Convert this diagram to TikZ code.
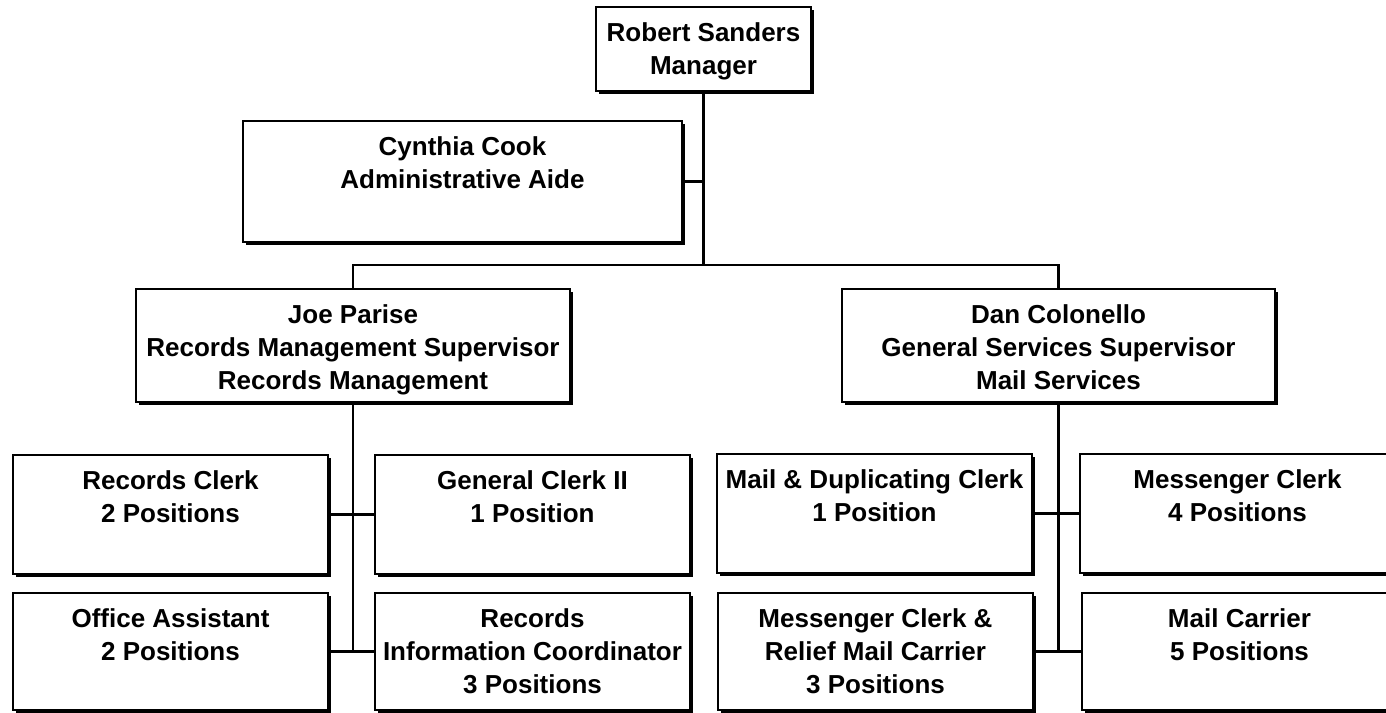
\documentclass[tikz,border=0pt]{standalone}
\usepackage{fontspec}
\setmainfont{Liberation Sans}
\usetikzlibrary{shadows}
\tikzset{
  x=1pt, y=-1pt,
  orgbox/.style={draw, line width=2pt, fill=white, inner sep=0pt, outer sep=0pt,
    rectangle, anchor=north west,
    drop shadow={shadow xshift=3pt, shadow yshift=-3pt, fill=black, opacity=1}},
  lbl/.style={anchor=north, inner sep=0pt, align=center,
    font=\fontsize{26}{33}\selectfont\bfseries},
  conn/.style={line width=2.2pt},
}
\newcommand\obox[6]{%
  \node[orgbox, minimum width={(#4-#2)*1pt}, minimum height={(#5-#3)*1pt}] (#1) at (#2,#3) {};
  \node[lbl] (#1-t) at ([yshift=-12pt]#1.north) {\rule{0pt}{22pt}#6};}
\begin{document}
\begin{tikzpicture}
\useasboundingbox (0,0) rectangle (1386,712);
\clip (0,0) rectangle (1386,712);
\fill[white] (0,0) rectangle (1386,712);
% boxes
\obox{rs}{596}{7}{811}{91}{Robert Sanders\\Manager}
\obox{cc}{243}{121}{682}{242}{Cynthia Cook\\Administrative Aide}
\obox{jp}{136}{289}{570}{402}{Joe Parise\\Records Management Supervisor\\Records Management}
\obox{dc}{842}{289}{1275}{402}{Dan Colonello\\General Services Supervisor\\Mail Services}
\obox{rc}{13}{455}{328}{574}{Records Clerk\\2 Positions}
\obox{gc}{375}{455}{690}{574}{General Clerk II\\1 Position}
\obox{oa}{13}{593}{328}{710}{Office Assistant\\2 Positions}
\obox{ric}{375}{593}{690}{710}{Records\\Information Coordinator\\3 Positions}
\obox{md}{717}{454}{1032}{573}{Mail \& Duplicating Clerk\\1 Position}
\obox{mc}{1080}{454}{1395}{573}{Messenger Clerk\\4 Positions}
\obox{mr}{718}{593}{1033}{710}{Messenger Clerk \&\\Relief Mail Carrier\\3 Positions}
\obox{mca}{1082}{593}{1397}{710}{Mail Carrier\\5 Positions}
% connectors
\coordinate (bus) at (0,265);
\draw[conn] (rs.south) -- (rs.south |- bus);
\draw[conn] (cc.east) -- (cc.east -| rs.south);
\draw[conn] (jp.north) -- (jp.north |- bus) -- (dc.north |- bus) -- (dc.north);
\draw[conn] (jp.south) -- (jp.south |- oa.east);
\draw[conn] (rc.east) -- (gc.west);
\draw[conn] (oa.east) -- (ric.west);
\draw[conn] (dc.south) -- (dc.south |- mr.east);
\draw[conn] (md.east) -- (mc.west);
\draw[conn] (mr.east) -- (mca.west);
\end{tikzpicture}
\end{document}
